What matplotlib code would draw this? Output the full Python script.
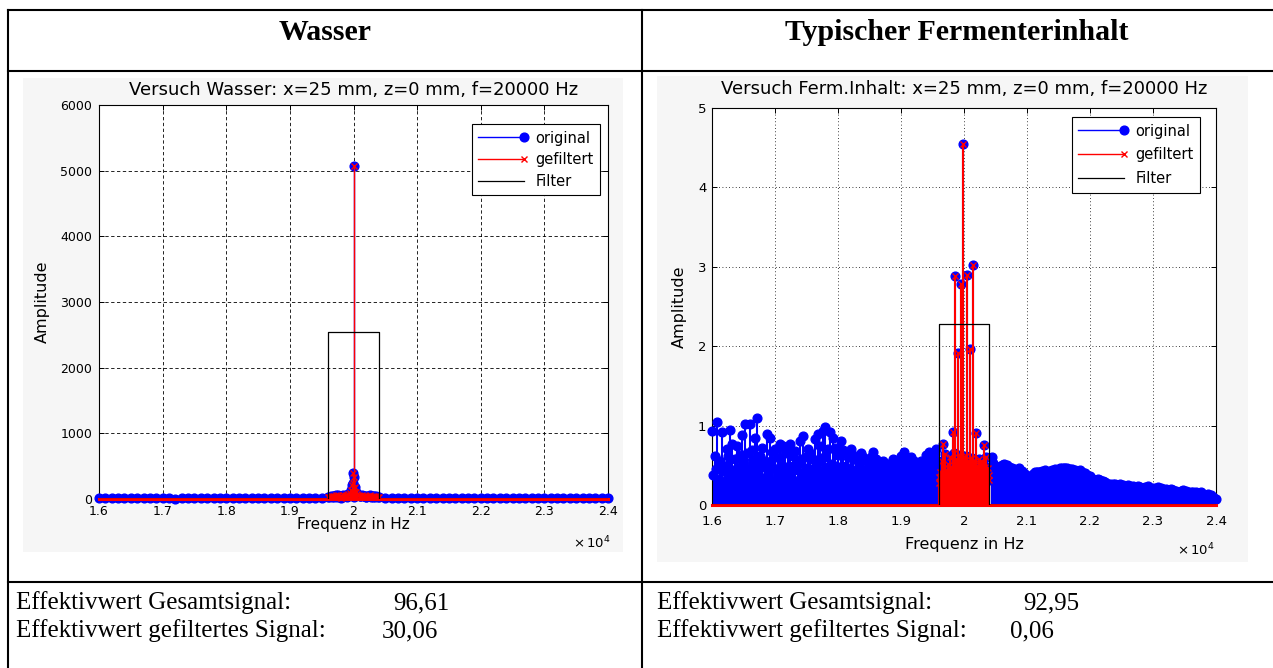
import numpy as np
import matplotlib.pyplot as plt
from matplotlib.legend_handler import HandlerLine2D
from matplotlib.lines import Line2D
from matplotlib.patches import Rectangle
from matplotlib.ticker import FuncFormatter, MultipleLocator

W, H = 1273, 668

# ---------------- data ----------------
headers = ['Wasser', 'Typischer Fermenterinhalt']
titles = ['Versuch Wasser: x=25 mm, z=0 mm, f=20000 Hz',
          'Versuch Ferm.Inhalt: x=25 mm, z=0 mm, f=20000 Hz']
rms_total = ['96,61', '92,95']
rms_filtered = ['30,06', '0,06']
filter_lo, filter_hi = 19600, 20400

# Wasser: coarse spectrum (100 Hz), band detail (20 Hz), peak detail
wasser_f = np.arange(16000, 24001, 100)
wasser_amp = [12, 18, 9, 15, 22, 11, 8, 14, 19, 10,
              13, 17, 7, 12, 16, 20, 9, 11, 15, 13,
              18, 10, 8, 14, 12, 16, 21, 9, 13, 11,
              15, 18, 12, 10, 17, 14, 25, 30, 22, 35,
              28, 40, 26, 31, 24, 16, 12, 19, 10, 14,
              13, 9, 17, 11, 15, 12, 8, 14, 18, 10,
              13, 16, 9, 12, 15, 11, 14, 10, 17, 13,
              9, 12, 16, 11, 14, 10, 13, 8, 12, 15,
              10]
wasser_band_f = np.arange(19620, 20381, 20)
wasser_band_amp = [35, 48, 30, 52,
                   41, 55, 38, 60, 44,
                   50, 36, 58, 47, 62,
                   55, 70, 90, 130, 210,
                   160,
                   180, 110, 75, 60, 52,
                   45, 58, 40, 53, 37,
                   49, 42, 56, 38, 51,
                   44, 35, 47, 32]
wasser_peak_f = [19990, 19995, 20000, 20005, 20010]
wasser_peak_amp = [245, 400, 5070, 330, 165]
wasser_filter_h = 2550

# Fermenterinhalt: left noise (40 Hz + in-between 40 Hz), band (10 Hz), right noise
ferm_left_amp = [0.93, 0.62, 1.04, 0.55, 0.92, 0.48, 0.70, 0.94, 0.77, 0.58,
                 0.74, 0.63, 0.88, 1.02, 0.66, 1.02, 0.69, 0.85, 1.10, 0.62,
                 0.72, 0.55, 0.90, 0.84, 0.67, 0.70, 0.60, 0.77, 0.74, 0.66,
                 0.71, 0.77, 0.62, 0.68, 0.57, 0.80, 0.87, 0.60, 0.71, 0.66,
                 0.58, 0.83, 0.90, 0.74, 0.93, 0.98, 0.70, 0.92, 0.85, 0.72,
                 0.63, 0.81, 0.69, 0.66, 0.60, 0.71, 0.58, 0.62, 0.55, 0.65,
                 0.60, 0.57, 0.52, 0.60, 0.67, 0.58, 0.54, 0.49, 0.56, 0.52,
                 0.47, 0.53, 0.58, 0.50, 0.55, 0.62, 0.67, 0.57, 0.53, 0.60,
                 0.56, 0.52, 0.49, 0.55, 0.51, 0.63, 0.67, 0.58, 0.62, 0.71]
ferm_left_mid = [0.38, 0.45, 0.33, 0.52, 0.30, 0.41, 0.62, 0.36, 0.44, 0.31,
                 0.48, 0.35, 0.55, 0.39, 0.46, 0.33, 0.58, 0.42, 0.37, 0.50,
                 0.34, 0.47, 0.40, 0.56, 0.32, 0.45, 0.38, 0.51, 0.36, 0.43,
                 0.49, 0.35, 0.44, 0.30, 0.53, 0.41, 0.37, 0.46, 0.34, 0.42,
                 0.47, 0.39, 0.55, 0.44, 0.61, 0.48, 0.40, 0.52, 0.38, 0.45,
                 0.36, 0.49, 0.42, 0.33, 0.47, 0.39, 0.44, 0.35, 0.46, 0.40,
                 0.43, 0.37, 0.48, 0.41, 0.35, 0.45, 0.39, 0.44, 0.34, 0.42,
                 0.38, 0.46, 0.40, 0.43, 0.36, 0.49, 0.41, 0.37, 0.45, 0.39,
                 0.44, 0.40, 0.47, 0.38, 0.42, 0.50, 0.43, 0.46, 0.41, 0.53]
ferm_band_amp = [0.35, 0.28, 0.42, 0.31, 0.38, 0.55, 0.77, 0.40, 0.33, 0.47,
                 0.64, 0.36, 0.30, 0.44, 0.38, 0.52, 0.41, 0.35, 0.60, 0.43,
                 0.37, 0.48, 0.55, 0.92, 0.66, 2.88, 0.50, 0.39, 0.58, 0.44,
                 1.92, 0.52, 0.41, 0.63, 0.47, 0.53, 2.78, 0.43, 4.55, 0.60,
                 0.49, 0.57, 0.46, 0.62, 2.90, 0.51, 0.44, 0.55, 0.48, 0.42,
                 1.97, 0.53, 0.47, 0.59, 3.02, 0.45, 0.50, 0.38, 0.55, 0.91,
                 0.43, 0.36, 0.49, 0.41, 0.58, 0.37, 0.46, 0.56, 0.40, 0.34,
                 0.52, 0.45, 0.76, 0.48, 0.39, 0.60, 0.42, 0.35, 0.47, 0.31,
                 0.38]
ferm_right_amp = [0.60, 0.50, 0.46, 0.48, 0.51, 0.52, 0.50, 0.48, 0.47, 0.45,
                  0.44, 0.46, 0.43, 0.40, 0.37, 0.35, 0.38, 0.41, 0.42, 0.42,
                  0.43, 0.44, 0.42, 0.43, 0.44, 0.45, 0.44, 0.46, 0.47, 0.47,
                  0.46, 0.45, 0.45, 0.44, 0.43, 0.44, 0.42, 0.40, 0.37, 0.36,
                  0.33, 0.32, 0.33, 0.31, 0.30, 0.29, 0.27, 0.26, 0.27, 0.26,
                  0.25, 0.26, 0.25, 0.24, 0.25, 0.24, 0.24, 0.23, 0.24, 0.23,
                  0.22, 0.23, 0.24, 0.22, 0.21, 0.22, 0.23, 0.21, 0.20, 0.20,
                  0.19, 0.20, 0.19, 0.18, 0.17, 0.18, 0.19, 0.18, 0.17, 0.16,
                  0.17, 0.16, 0.15, 0.16, 0.14, 0.13, 0.14, 0.12, 0.10, 0.08]
ferm_right_mid = [0.53, 0.47, 0.45, 0.49, 0.50, 0.49, 0.47, 0.46, 0.44, 0.43,
                  0.44, 0.42, 0.40, 0.37, 0.34, 0.36, 0.39, 0.40, 0.41, 0.41,
                  0.42, 0.41, 0.41, 0.42, 0.43, 0.43, 0.44, 0.45, 0.46, 0.45,
                  0.44, 0.44, 0.43, 0.42, 0.42, 0.41, 0.39, 0.37, 0.35, 0.33,
                  0.31, 0.31, 0.30, 0.29, 0.28, 0.27, 0.25, 0.25, 0.25, 0.24,
                  0.24, 0.24, 0.23, 0.23, 0.23, 0.23, 0.22, 0.22, 0.22, 0.21,
                  0.21, 0.22, 0.21, 0.20, 0.20, 0.21, 0.20, 0.19, 0.19, 0.18,
                  0.18, 0.18, 0.17, 0.16, 0.16, 0.17, 0.17, 0.16, 0.15, 0.15,
                  0.15, 0.14, 0.14, 0.13, 0.12, 0.12, 0.11, 0.09, 0.07]
ferm_filter_h = 2.28

ferm_f = np.concatenate([16000 + 40 * np.arange(len(ferm_left_amp)),
                         16020 + 40 * np.arange(len(ferm_left_mid)),
                         19600 + 10 * np.arange(len(ferm_band_amp)),
                         20440 + 40 * np.arange(len(ferm_right_amp)),
                         20460 + 40 * np.arange(len(ferm_right_mid))])
ferm_amp = np.concatenate([ferm_left_amp, ferm_left_mid, ferm_band_amp,
                           ferm_right_amp, ferm_right_mid])
wasser_all_f = np.concatenate([wasser_f, wasser_band_f, wasser_peak_f])
wasser_all_amp = np.concatenate([wasser_amp, wasser_band_amp, wasser_peak_amp])


class EndMarker(HandlerLine2D):
    # MATLAB style legend: marker sits at the right end of the line
    def create_artists(self, *args, **kwargs):
        arts = super().create_artists(*args, **kwargs)
        for a in arts:
            a.set_markevery([len(a.get_xdata()) - 1])
        return arts


def px_box(l, t, r, b):
    return [l / W, 1 - b / H, (r - l) / W, (b - t) / H]


def spectrum(ax, f, amp, filt_h, ymax, ystep, grid_ls, title, title_pad, stem_lw,
             labelspacing):
    order = np.argsort(f)
    f = np.asarray(f)[order]
    amp = np.asarray(amp, dtype=float)[order]
    inband = (f >= filter_lo) & (f <= filter_hi)

    # original
    ax.vlines(f, 0, amp, color='b', lw=stem_lw, zorder=2)
    ax.plot(f, amp, 'o', color='b', ms=6.3, zorder=3, clip_on=False)
    # gefiltert (zero outside the band -> red base line)
    ax.axhline(0, color='r', lw=2.2, zorder=4, clip_on=False)
    ax.vlines(f[inband], 0, amp[inband], color='r', lw=stem_lw, zorder=4)
    ax.plot(f[inband], amp[inband], 'x', color='r', ms=4, mew=1, zorder=5, clip_on=False)
    # Filter
    ax.plot([16000, filter_lo, filter_lo, filter_hi, filter_hi, 24000],
            [0, 0, filt_h, filt_h, 0, 0], color='k', lw=0.9, zorder=6)

    ax.set_xlim(16000, 24000)
    ax.set_ylim(0, ymax)
    ax.xaxis.set_major_locator(MultipleLocator(1000))
    ax.xaxis.set_major_formatter(FuncFormatter(lambda v, p: f'{v / 1e4:g}'))
    ax.yaxis.set_major_locator(MultipleLocator(ystep))
    ax.yaxis.set_major_formatter(FuncFormatter(lambda v, p: f'{v:g}'))
    ax.grid(True, color='k', lw=0.6, linestyle=grid_ls)
    ax.set_axisbelow(True)
    ax.tick_params(direction='in', length=3.5, width=0.7, top=True, right=True,
                   labelsize=9.5, pad=4)
    for s in ax.spines.values():
        s.set_linewidth(0.8)
    ax.set_title(title, fontsize=13, pad=title_pad)
    ax.set_xlabel('Frequenz in Hz', fontsize=11.5)
    ax.set_ylabel('Amplitude', fontsize=11.5)

    handles = [Line2D([], [], color='b', marker='o', ms=6.3, lw=1),
               Line2D([], [], color='r', marker='x', ms=4, lw=1),
               Line2D([], [], color='k', lw=0.9)]
    leg = ax.legend(handles, ['original', 'gefiltert', 'Filter'], loc='upper right',
                    fontsize=10.5, fancybox=False, framealpha=1, edgecolor='k',
                    handlelength=3.1, handletextpad=0.8, borderpad=0.45,
                    labelspacing=labelspacing, borderaxespad=0,
                    handler_map={Line2D: EndMarker()})
    leg.get_frame().set_linewidth(0.8)
    leg.set_zorder(10)
    return leg


fig = plt.figure(figsize=(W / 100, H / 100), dpi=100)
bg = fig.add_axes([0, 0, 1, 1])
bg.set_xlim(0, W)
bg.set_ylim(H, 0)
bg.axis('off')

# light grey MATLAB figure areas
bg.add_patch(Rectangle((23, 78), 600, 474, color='#f6f6f6', lw=0))
bg.add_patch(Rectangle((657, 76), 591, 486, color='#f6f6f6', lw=0))

# table lines
for y in [10, 71, 582]:
    bg.plot([8, W], [y, y], color='k', lw=1.5)
for x in [8, 642]:
    bg.plot([x, x], [10, H], color='k', lw=1.5)

for x, h in zip([325, 957], headers):
    bg.text(x, 33, h, ha='center', va='center', fontsize=21.5, fontweight='bold',
            family='Liberation Serif')
for x0, xv1, xv2, tot, filt in zip([16, 657], [393, 1023], [382, 1010],
                                   rms_total, rms_filtered):
    bg.text(x0, 603, 'Effektivwert Gesamtsignal:', va='center', fontsize=18,
            family='Liberation Serif')
    bg.text(xv1, 603, tot, va='center', fontsize=18, family='Liberation Serif')
    bg.text(x0, 631, 'Effektivwert gefiltertes Signal:', va='center',
            fontsize=18, family='Liberation Serif')
    bg.text(xv2, 631, filt, va='center', fontsize=18, family='Liberation Serif')

# plot 1: Wasser
ax1 = fig.add_axes(px_box(99, 105, 608, 499))
leg1 = spectrum(ax1, wasser_all_f, wasser_all_amp, wasser_filter_h, 6000, 1000,
                (0, (4, 3)), titles[0], 7, 1.0, 0.45)
leg1.set_bbox_to_anchor(((600 - 99) / 509, (499 - 124) / 394), transform=ax1.transAxes)
ax1.tick_params(labelsize=9)
ax1.tick_params(axis='x', pad=4.5)
ax1.tick_params(axis='y', pad=5)
ax1.xaxis.label.set_fontsize(11)
ax1.yaxis.set_label_coords((50 - 99) / 509, 0.5)
ax1.xaxis.set_label_coords(0.5, (499 - 517) / 394)
bg.text(592, 543, r'$\times\,10^4$', ha='center', va='center', fontsize=9.5)

# plot 2: Fermenterinhalt
ax2 = fig.add_axes(px_box(712, 108, 1216, 505))
leg2 = spectrum(ax2, ferm_f, ferm_amp, ferm_filter_h, 5, 1,
                (0, (1, 3)), titles[1], 10, 1.5, 0.6)
leg2.set_bbox_to_anchor(((1200 - 712) / 504, (505 - 117) / 397), transform=ax2.transAxes)
ax2.tick_params(axis='x', pad=7)
ax2.yaxis.set_label_coords((687 - 712) / 504, 0.5)
ax2.xaxis.set_label_coords(0.5, (505 - 537) / 397)
bg.text(1196, 550, r'$\times\,10^4$', ha='center', va='center', fontsize=9.5)

fig.savefig('out.png', dpi=100)
